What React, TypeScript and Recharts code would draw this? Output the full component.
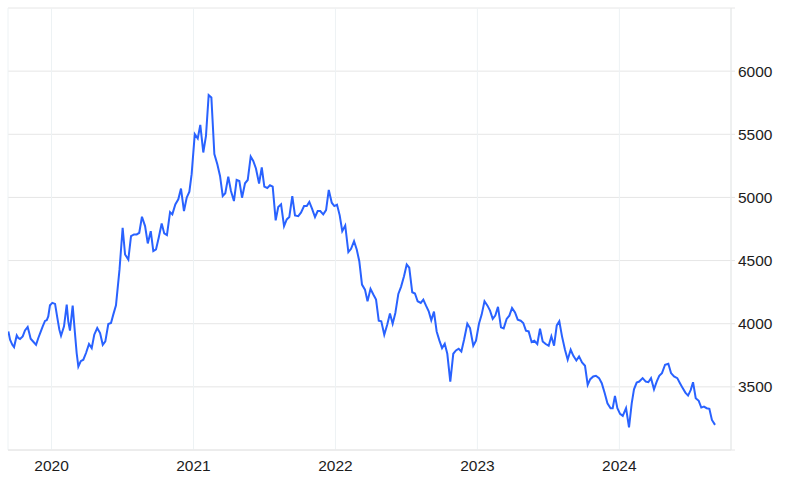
import React from "react";
import { LineChart, Line, XAxis, YAxis, CartesianGrid } from "recharts";

// Decimal-year time stamps of each observation
const times: number[] = [
  2019.696, 2019.708, 2019.724, 2019.736, 2019.755, 2019.766, 2019.778, 2019.797, 2019.813, 2019.832,
  2019.843, 2019.853, 2019.872, 2019.891, 2019.907, 2019.924, 2019.938, 2019.954, 2019.966, 2019.977,
  2019.989, 2020.006, 2020.025, 2020.041, 2020.055, 2020.067, 2020.088, 2020.107, 2020.118, 2020.13,
  2020.149, 2020.165, 2020.177, 2020.189, 2020.206, 2020.224, 2020.243, 2020.264, 2020.283, 2020.301,
  2020.322, 2020.342, 2020.361, 2020.379, 2020.4, 2020.419, 2020.435, 2020.454, 2020.479, 2020.501,
  2020.518, 2020.541, 2020.56, 2020.581, 2020.6, 2020.618, 2020.637, 2020.659, 2020.678, 2020.699,
  2020.717, 2020.736, 2020.755, 2020.776, 2020.794, 2020.813, 2020.835, 2020.851, 2020.872, 2020.893,
  2020.912, 2020.933, 2020.952, 2020.971, 2020.987, 2021.009, 2021.03, 2021.048, 2021.069, 2021.088,
  2021.107, 2021.126, 2021.147, 2021.168, 2021.187, 2021.206, 2021.224, 2021.245, 2021.264, 2021.285,
  2021.304, 2021.323, 2021.342, 2021.363, 2021.382, 2021.403, 2021.421, 2021.44, 2021.462, 2021.481,
  2021.499, 2021.52, 2021.539, 2021.558, 2021.579, 2021.597, 2021.617, 2021.638, 2021.657, 2021.675,
  2021.696, 2021.715, 2021.738, 2021.757, 2021.779, 2021.798, 2021.816, 2021.835, 2021.856, 2021.875,
  2021.893, 2021.914, 2021.934, 2021.953, 2021.974, 2021.992, 2022.011, 2022.03, 2022.048, 2022.069,
  2022.091, 2022.11, 2022.131, 2022.15, 2022.168, 2022.187, 2022.208, 2022.226, 2022.247, 2022.267,
  2022.286, 2022.305, 2022.323, 2022.344, 2022.365, 2022.384, 2022.403, 2022.422, 2022.443, 2022.462,
  2022.483, 2022.502, 2022.52, 2022.541, 2022.56, 2022.579, 2022.601, 2022.619, 2022.638, 2022.657,
  2022.675, 2022.694, 2022.713, 2022.732, 2022.751, 2022.77, 2022.788, 2022.809, 2022.83, 2022.849,
  2022.868, 2022.887, 2022.906, 2022.929, 2022.948, 2022.971, 2022.99, 2023.011, 2023.03, 2023.05,
  2023.07, 2023.089, 2023.108, 2023.126, 2023.145, 2023.166, 2023.185, 2023.206, 2023.225, 2023.244,
  2023.265, 2023.284, 2023.305, 2023.323, 2023.342, 2023.361, 2023.382, 2023.401, 2023.422, 2023.441,
  2023.46, 2023.481, 2023.502, 2023.521, 2023.54, 2023.559, 2023.577, 2023.596, 2023.617, 2023.636,
  2023.657, 2023.676, 2023.697, 2023.716, 2023.737, 2023.758, 2023.777, 2023.795, 2023.816, 2023.835,
  2023.857, 2023.876, 2023.897, 2023.916, 2023.938, 2023.953, 2023.969, 2023.986, 2024.005, 2024.024,
  2024.047, 2024.068, 2024.087, 2024.103, 2024.122, 2024.14, 2024.164, 2024.186, 2024.204, 2024.223,
  2024.244, 2024.263, 2024.281, 2024.3, 2024.322, 2024.345, 2024.364, 2024.385, 2024.408, 2024.427,
  2024.446, 2024.465, 2024.484, 2024.503, 2024.519, 2024.538, 2024.559, 2024.577, 2024.596, 2024.615,
  2024.634, 2024.652, 2024.674,
];

// Index level at each time stamp
const values: number[] = [
  3939, 3873, 3833, 3815, 3907, 3887, 3879, 3900, 3947, 3974,
  3927, 3881, 3857, 3833, 3887, 3937, 3979, 4022, 4027, 4058,
  4146, 4165, 4157, 4046, 3953, 3905, 3979, 4151, 4019, 3945,
  4143, 3926, 3768, 3661, 3704, 3715, 3768, 3839, 3807, 3913,
  3966, 3926, 3833, 3860, 3998, 4006, 4072, 4145, 4430, 4760,
  4548, 4508, 4694, 4707, 4707, 4720, 4847, 4773, 4636, 4733,
  4575, 4588, 4681, 4794, 4715, 4702, 4884, 4866, 4945, 4985,
  5070, 4892, 4998, 5046, 5184, 5501, 5467, 5575, 5356, 5488,
  5811, 5792, 5343, 5263, 5170, 5011, 5033, 5165, 5051, 4971,
  5138, 5130, 4998, 5112, 5138, 5324, 5289, 5229, 5110, 5237,
  5086, 5075, 5096, 5086, 4818, 4924, 4945, 4773, 4826, 4845,
  5011, 4858, 4852, 4879, 4932, 4932, 4964, 4911, 4845, 4892,
  4892, 4866, 4900, 5059, 4958, 4932, 4943, 4858, 4733, 4778,
  4567, 4593, 4654, 4588, 4495, 4310, 4270, 4178, 4276, 4231,
  4191, 4024, 4019, 3913, 3993, 4080, 4000, 4085, 4236, 4292,
  4376, 4469, 4443, 4249, 4239, 4178, 4165, 4191, 4143, 4098,
  4027, 4096, 3939, 3868, 3807, 3841, 3762, 3542, 3762, 3788,
  3802, 3780, 3873, 4000, 3966, 3826, 3865, 4000, 4072, 4178,
  4145, 4104, 4038, 4064, 4133, 3971, 3963, 4038, 4064, 4125,
  4090, 4032, 4024, 4006, 3945, 3939, 3855, 3865, 3839, 3961,
  3860, 3839, 3826, 3900, 3826, 3987, 4019, 3900, 3794, 3715,
  3794, 3746, 3709, 3741, 3693, 3667, 3516, 3561, 3582, 3588,
  3569, 3529, 3450, 3370, 3331, 3331, 3429, 3331, 3286, 3270,
  3331, 3180, 3370, 3481, 3534, 3542, 3569, 3542, 3537, 3569,
  3481, 3542, 3588, 3609, 3675, 3683, 3609, 3582, 3569, 3529,
  3490, 3455, 3431, 3476, 3537, 3410, 3389, 3336, 3344, 3331,
  3326, 3238, 3199,
];

const yearTicks: number[] = [2020, 2021, 2022, 2023, 2024];
const valueTicks: number[] = [3000, 3500, 4000, 4500, 5000, 5500, 6000, 6500];
const labelledValues: number[] = [3500, 4000, 4500, 5000, 5500, 6000];

const data = times.map((t, i) => ({ t, v: values[i] }));

const FONT = "'Liberation Sans', Arial, Helvetica, sans-serif";

export default function App() {
  return (
    <div style={{ position: "absolute", left: 0, top: 0, width: 796, height: 484, background: "#fff" }}>
      <LineChart
        width={796}
        height={484}
        data={data}
        margin={{ top: 8, right: 0, bottom: 0, left: 8 }}
      >
        <CartesianGrid vertical={false} stroke="#e6e6e6" strokeWidth={1} />
        <CartesianGrid horizontal={false} stroke="#edf2f4" strokeWidth={1} />
        <XAxis
          dataKey="t"
          type="number"
          domain={[2019.6934, 2024.7864]}
          ticks={yearTicks}
          allowDataOverflow
          tickFormatter={(v: number) => String(Math.round(v))}
          axisLine={{ stroke: "#e6e6e6" }}
          tickLine={false}
          tickSize={0}
          tickMargin={10}
          height={34}
          tick={{ fill: "#1c1c1c", fontSize: 15.5, fontFamily: FONT }}
        />
        <YAxis
          orientation="right"
          type="number"
          domain={[3000, 6500]}
          ticks={valueTicks}
          allowDataOverflow
          tickFormatter={(v: number) => (labelledValues.includes(v) ? String(v) : "")}
          axisLine={{ stroke: "#e6e6e6" }}
          tickLine={{ stroke: "#e6e6e6" }}
          tickSize={4}
          tickMargin={3}
          width={65}
          tick={{ fill: "#1c1c1c", fontSize: 15.5, fontFamily: FONT }}
        />
        <Line
          type="linear"
          dataKey="v"
          stroke="#2962ff"
          strokeWidth={2}
          dot={false}
          isAnimationActive={false}
        />
      </LineChart>
    </div>
  );
}
